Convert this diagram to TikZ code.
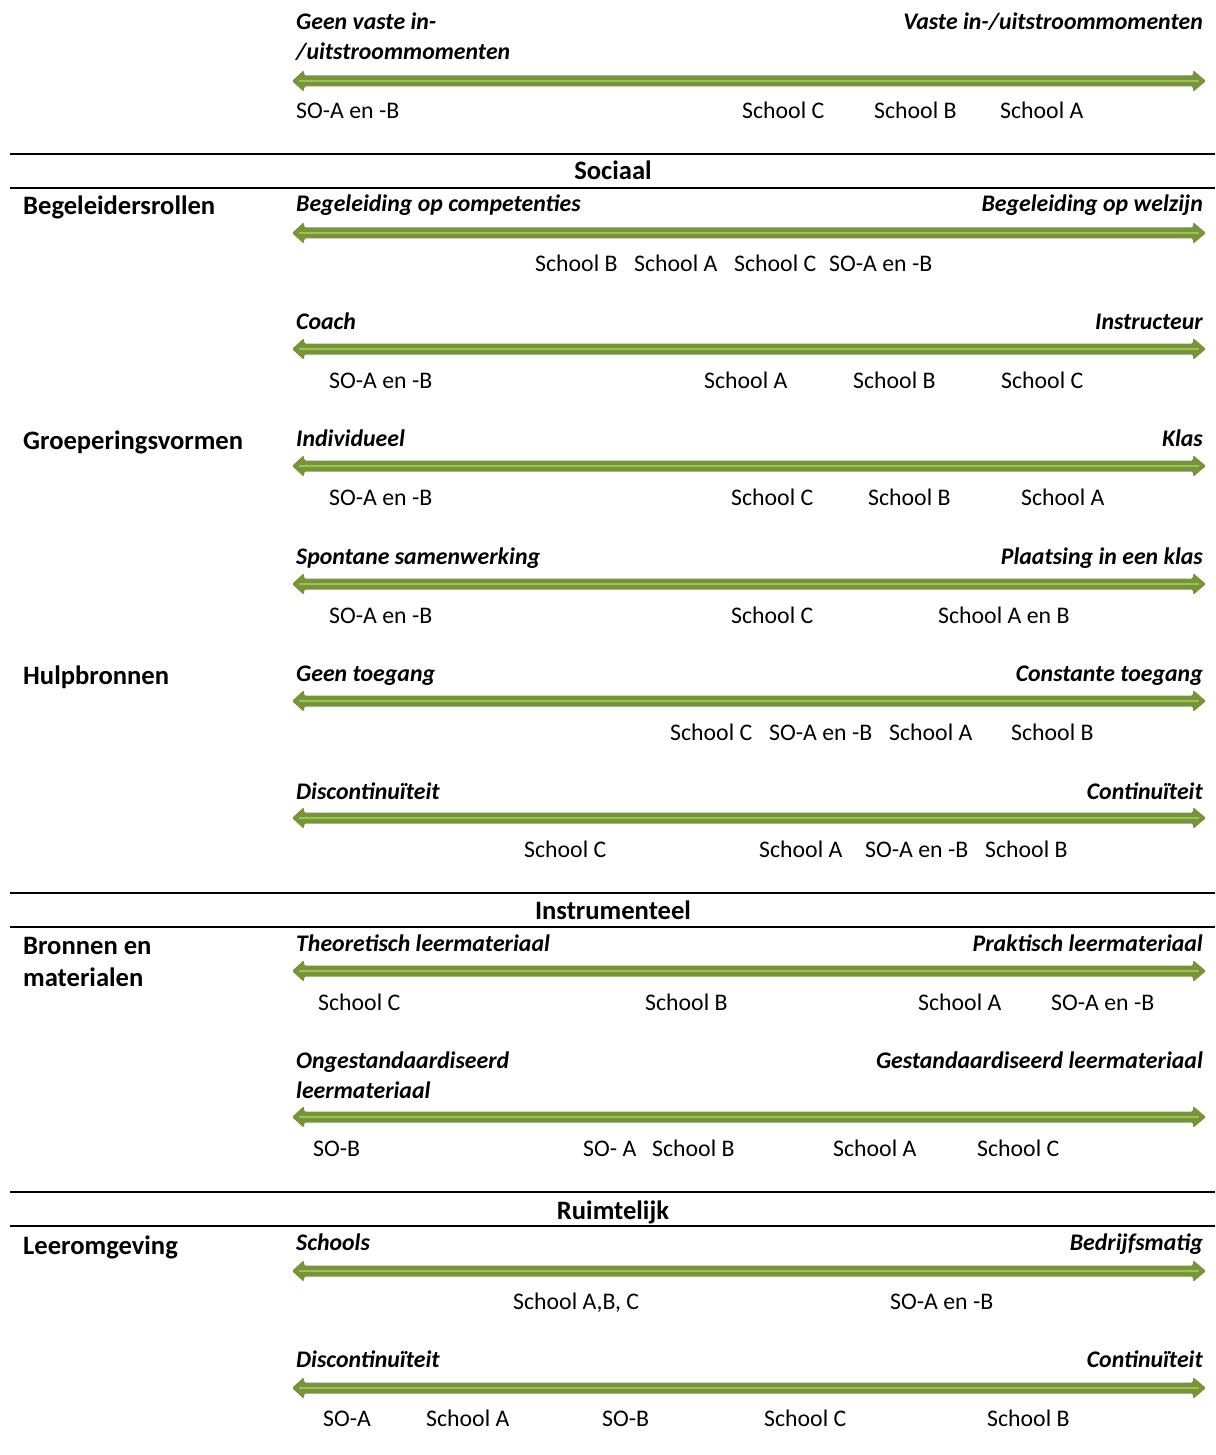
\documentclass[tikz,border=0pt]{standalone}
\usepackage{fontspec}
\setmainfont{Carlito}
\newcommand{\rowfont}{\fontsize{23.8}{28}\selectfont}
\newcommand{\headfont}{\fontsize{26.6}{31}\selectfont}
\definecolor{axisdark}{RGB}{119,147,60}
\definecolor{axislight}{RGB}{158,192,84}
\tikzset{
  school/.style={inner sep=0pt, anchor=base west, font=\rowfont},
  poleleft/.style={inner sep=0pt, anchor=base west, font=\rowfont\bfseries\itshape},
  poleright/.style={inner sep=0pt, anchor=base east, font=\rowfont\bfseries\itshape},
  dimname/.style={inner sep=0pt, anchor=base west, font=\headfont\bfseries},
  sectitle/.style={inner sep=0pt, anchor=base, font=\headfont\bfseries},
  rule/.style={line width=2pt}
}
\begin{document}
\begin{tikzpicture}[x=1pt,y=-1pt]
 \useasboundingbox (0,0) rectangle (1215,1455);
 % scales
 \foreach \y in {81,233,349,466,584,701,818,971,1117,1271,1388} {
  \fill[axisdark,rounded corners=1.5pt] (292,\y)--(304,\y-11)--(304,\y-5.5)--(1193,\y-5.5)--(1193,\y-11)
   --(1206,\y)--(1193,\y+11)--(1193,\y+5.5)--(304,\y+5.5)--(304,\y+11)--cycle;
  \draw[axislight,line width=2.6pt] (299,\y)--(1199,\y);
 }
 % section rules
 \draw[rule] (10,154)--(1215,154); \draw[rule] (10,188)--(1215,188);
 \draw[rule] (10,893)--(1215,893); \draw[rule] (10,927)--(1215,927);
 \draw[rule] (10,1192)--(1215,1192); \draw[rule] (10,1226)--(1215,1226);
 \node[sectitle] (sociaal) at (613,180) {Sociaal};
 \node[sectitle] (instr) at (613,919) {Instrumenteel};
 \node[sectitle] (ruimte) at (613,1219) {Ruimtelijk};
 \node[dimname] (begel) at (23,215) {Begeleidersrollen};
 \node[dimname] (groep) at (23,449) {Groeperingsvormen};
 \node[dimname] (hulp) at (23,684) {Hulpbronnen};
 \node[dimname] (bron1) at (23,954) {Bronnen en};
 \node[dimname] (bron2) at (23,986) {materialen};
 \node[dimname] (leerom) at (23,1254) {Leeromgeving};
 % in-/uitstroom
 \node[poleleft] (p0l) at (296,30) {Geen vaste in-};
 \node[poleleft] (p0l2) at (296,60) {/uitstroommomenten};
 \node[poleright] (p0r) at (1203,30) {Vaste in-/uitstroommomenten};
 \node[school] (s0a) at (296,119) {SO-A en -B};
 \node[school] (s0b) at (742,119) {School C};
 \node[school] (s0c) at (874,119) {School B};
 \node[school] (s0d) at (1000,119) {School A};
 % begeleiding
 \node[poleleft] (p1l) at (296,212) {Begeleiding op competenties};
 \node[poleright] (p1r) at (1203,212) {Begeleiding op welzijn};
 \node[school] (s1a) at (535,271) {School B};
 \node[school] (s1b) at (634,271) {School A};
 \node[school] (s1c) at (734,271) {School C};
 \node[school] (s1d) at (829,271) {SO-A en -B};
 % coach
 \node[poleleft] (p2l) at (296,329) {Coach};
 \node[poleright] (p2r) at (1203,329) {Instructeur};
 \node[school] (s2a) at (329,388) {SO-A en -B};
 \node[school] (s2b) at (704,388) {School A};
 \node[school] (s2c) at (853,388) {School B};
 \node[school] (s2d) at (1001,388) {School C};
 % individueel
 \node[poleleft] (p3l) at (296,446) {Individueel};
 \node[poleright] (p3r) at (1203,446) {Klas};
 \node[school] (s3a) at (329,505) {SO-A en -B};
 \node[school] (s3b) at (731,505) {School C};
 \node[school] (s3c) at (868,505) {School B};
 \node[school] (s3d) at (1021,505) {School A};
 % samenwerking
 \node[poleleft] (p4l) at (296,564) {Spontane samenwerking};
 \node[poleright] (p4r) at (1203,564) {Plaatsing in een klas};
 \node[school] (s4a) at (329,623) {SO-A en -B};
 \node[school] (s4b) at (731,623) {School C};
 \node[school] (s4c) at (938,623) {School A en B};
 % toegang
 \node[poleleft] (p5l) at (296,681) {Geen toegang};
 \node[poleright] (p5r) at (1203,681) {Constante toegang};
 \node[school] (s5a) at (670,740) {School C};
 \node[school] (s5b) at (769,740) {SO-A en -B};
 \node[school] (s5c) at (889,740) {School A};
 \node[school] (s5d) at (1011,740) {School B};
 % continuiteit
 \node[poleleft] (p6l) at (296,799) {Discontinuïteit};
 \node[poleright] (p6r) at (1203,799) {Continuïteit};
 \node[school] (s6a) at (524,857) {School C};
 \node[school] (s6b) at (759,857) {School A};
 \node[school] (s6c) at (865,857) {SO-A en -B};
 \node[school] (s6d) at (985,857) {School B};
 % leermateriaal
 \node[poleleft] (p7l) at (296,951) {Theoretisch leermateriaal};
 \node[poleright] (p7r) at (1203,951) {Praktisch leermateriaal};
 \node[school] (s7a) at (318,1010) {School C};
 \node[school] (s7b) at (645,1010) {School B};
 \node[school] (s7c) at (918,1010) {School A};
 \node[school] (s7d) at (1051,1010) {SO-A en -B};
 % standaardisering
 \node[poleleft] (p8l) at (296,1068) {Ongestandaardiseerd};
 \node[poleleft] (p8l2) at (296,1098) {leermateriaal};
 \node[poleright] (p8r) at (1203,1068) {Gestandaardiseerd leermateriaal};
 \node[school] (s8a) at (313,1156) {SO-B};
 \node[school] (s8b) at (583,1156) {SO- A};
 \node[school] (s8c) at (652,1156) {School B};
 \node[school] (s8d) at (833,1156) {School A};
 \node[school] (s8e) at (977,1156) {School C};
 % leeromgeving
 \node[poleleft] (p9l) at (296,1250) {Schools};
 \node[poleright] (p9r) at (1203,1250) {Bedrijfsmatig};
 \node[school] (s9a) at (513,1309) {School A,B, C};
 \node[school] (s9b) at (890,1309) {SO-A en -B};
 % continuiteit ruimte
 \node[poleleft] (p10l) at (296,1367) {Discontinuïteit};
 \node[poleright] (p10r) at (1203,1367) {Continuïteit};
 \node[school] (s10a) at (323,1426) {SO-A};
 \node[school] (s10b) at (426,1426) {School A};
 \node[school] (s10c) at (602,1426) {SO-B};
 \node[school] (s10d) at (764,1426) {School C};
 \node[school] (s10e) at (987,1426) {School B};
\end{tikzpicture}
\end{document}
